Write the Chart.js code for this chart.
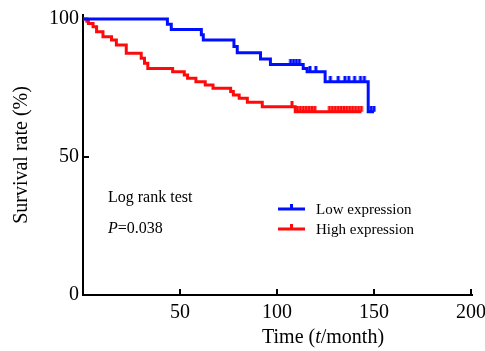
<!DOCTYPE html>
<html>
<head>
<meta charset="utf-8">
<script src="https://cdn.jsdelivr.net/npm/chart.js@4.4.0/dist/chart.umd.min.js"></script>
<style>
  html, body { margin: 0; padding: 0; background: #fff; }
</style>
</head>
<body>
<canvas id="kmChart" width="485" height="351"></canvas>
<script>
// Kaplan-Meier steps (time in months, survival in %)
const lowTimes = [0, 43.5, 45.5, 61, 62, 77.8, 79.5, 91.5, 96.6, 113.5, 115.5, 124.8, 147, 150];
const lowSurv = [100, 98.1, 96.2, 94.3, 92.4, 90.0, 87.8, 85.5, 83.5, 82.1, 80.9, 77.3, 66.4, 66.4];
const lowCensorTimes = [107, 108.5, 110, 111.5, 117, 120, 127.5, 131.5, 135, 137, 140, 143, 145, 148.5, 150];
const lowCensorSurv = [83.5, 83.5, 83.5, 83.5, 80.9, 80.9, 77.3, 77.3, 77.3, 77.3, 77.3, 77.3, 77.3, 66.4, 66.4];

const highTimes = [0, 2, 2.8, 5.2, 7, 10.3, 14.7, 17.2, 22.3, 30, 31.7, 33.4, 46.2, 52.2, 53.9, 58.2, 63, 67, 76.1, 77.5, 80.5, 84.7, 92.4, 109.4, 143.5];
const highSurv = [100, 99.2, 98.4, 97.2, 95.4, 93.6, 92.4, 90.6, 87.6, 85.8, 84.0, 82.1, 80.9, 79.7, 78.5, 77.3, 76.1, 74.9, 73.7, 72.5, 71.3, 69.8, 68.2, 66.4, 66.4];
const highCensorTimes = [107.7, 110.5, 112, 113.5, 115, 116.5, 118, 119.5, 127, 128.5, 130, 131.5, 133, 134.5, 136, 137.5, 139, 140.5, 142, 143.5];
const highCensorSurv = [68.2, 66.4, 66.4, 66.4, 66.4, 66.4, 66.4, 66.4, 66.4, 66.4, 66.4, 66.4, 66.4, 66.4, 66.4, 66.4, 66.4, 66.4, 66.4, 66.4];

const xTicks = [50, 100, 150, 200];
const yTicks = [0, 50, 100];

const BLUE = '#0010ff';
const RED = '#ff0a0a';
const SERIF = '"Liberation Serif", "Times New Roman", serif';

// small upward tick used for censored cases
function makeTick(color) {
    const c = document.createElement('canvas');
    c.width = 6;
    c.height = 12;
    const g = c.getContext('2d');
    g.fillStyle = color;
    g.fillRect(1.5, 0, 3, 6);
    return c;
}

function toPoints(xs, ys) {
    return xs.map((t, i) => ({ x: t, y: ys[i] }));
}

const overlay = {
    id: 'overlay',
    afterDraw(chart) {
        const ctx = chart.ctx;
        ctx.save();
        ctx.fillStyle = '#000';
        ctx.textBaseline = 'middle';

        // x axis title, t in italics
        const normal = '20px ' + SERIF;
        const italic = 'italic 20px ' + SERIF;
        let x = 262;
        const ty = 338;
        ctx.font = normal;
        ctx.fillText('Time (', x, ty);
        x += ctx.measureText('Time (').width;
        ctx.font = italic;
        ctx.fillText('t', x, ty);
        x += ctx.measureText('t').width;
        ctx.font = normal;
        ctx.fillText('/month)', x, ty);

        // test annotation
        ctx.font = '16px ' + SERIF;
        ctx.fillText('Log rank test', 108, 198);
        ctx.font = 'italic 16px ' + SERIF;
        ctx.fillText('P', 108, 229);
        const pw = ctx.measureText('P').width;
        ctx.font = '16px ' + SERIF;
        ctx.fillText('=0.038', 108 + pw, 229);

        // legend
        const items = [
            { label: 'Low expression', color: BLUE, y: 209 },
            { label: 'High expression', color: RED, y: 229 }
        ];
        ctx.font = '15px ' + SERIF;
        items.forEach(it => {
            ctx.strokeStyle = it.color;
            ctx.lineWidth = 3;
            ctx.beginPath();
            ctx.moveTo(278, it.y);
            ctx.lineTo(305, it.y);
            ctx.moveTo(291.5, it.y);
            ctx.lineTo(291.5, it.y - 5);
            ctx.stroke();
            ctx.fillStyle = '#000';
            ctx.fillText(it.label, 316, it.y + 1);
        });
        ctx.restore();
    }
};

new Chart(document.getElementById('kmChart'), {
    type: 'line',
    data: {
        datasets: [
            {
                label: 'Low expression',
                data: toPoints(lowTimes, lowSurv),
                borderColor: BLUE,
                borderWidth: 3,
                stepped: true,
                pointRadius: 0,
                fill: false
            },
            {
                label: 'High expression',
                data: toPoints(highTimes, highSurv),
                borderColor: RED,
                borderWidth: 3,
                stepped: true,
                pointRadius: 0,
                fill: false
            },
            {
                label: 'Low censored',
                data: toPoints(lowCensorTimes, lowCensorSurv),
                showLine: false,
                pointStyle: makeTick(BLUE),
                pointRadius: 3
            },
            {
                label: 'High censored',
                data: toPoints(highCensorTimes, highCensorSurv),
                showLine: false,
                pointStyle: makeTick(RED),
                pointRadius: 3
            }
        ]
    },
    options: {
        responsive: false,
        animation: false,
        devicePixelRatio: 1,
        layout: { padding: { top: 15, right: 13, left: 0, bottom: 0 } },
        plugins: {
            legend: { display: false },
            tooltip: { enabled: false }
        },
        scales: {
            x: {
                type: 'linear',
                min: 0,
                max: 200.5,
                afterBuildTicks: s => { s.ticks = xTicks.map(v => ({ value: v })); },
                afterFit: s => { s.height = 56; s.paddingLeft = 0; s.paddingRight = 0; },
                grid: { drawOnChartArea: false, drawTicks: true, tickLength: -6, color: '#000', lineWidth: 2 },
                border: { display: true, color: '#000', width: 2 },
                ticks: { color: '#000', font: { family: SERIF, size: 20 }, padding: 12, maxRotation: 0, autoSkip: false }
            },
            y: {
                min: 0,
                max: 101.45,
                afterBuildTicks: s => { s.ticks = yTicks.map(v => ({ value: v })); },
                afterFit: s => { s.width = 83; s.paddingTop = 0; s.paddingBottom = 0; },
                grid: { drawOnChartArea: false, drawTicks: true, tickLength: -6, color: '#000', lineWidth: 2 },
                border: { display: true, color: '#000', width: 2 },
                ticks: { color: '#000', font: { family: SERIF, size: 20 }, padding: 10 },
                title: {
                    display: true,
                    text: 'Survival rate (%)',
                    color: '#000',
                    font: { family: SERIF, size: 20 },
                    padding: { top: 10, bottom: 0 }
                }
            }
        }
    },
    plugins: [overlay]
});
</script>
</body>
</html>
